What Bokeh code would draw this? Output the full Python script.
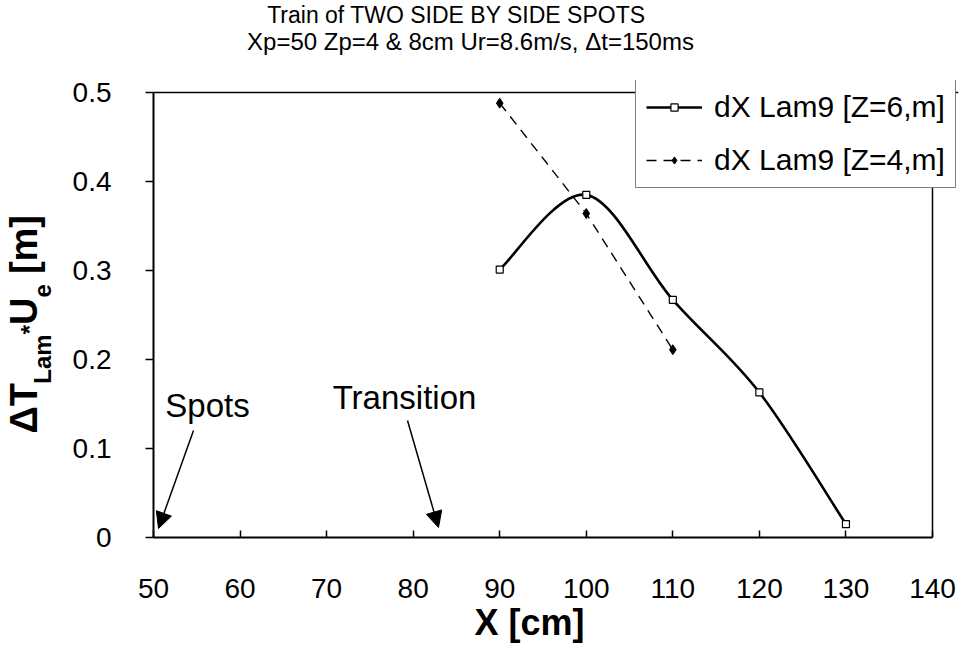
import math
from bokeh.plotting import figure
from bokeh.layouts import row, column
from bokeh.models import (Range1d, FixedTicker, Label, Arrow, NormalHead,
                          Legend, LegendItem, ColumnDataSource, Span, Title)
from bokeh.core.properties import value
from bokeh.embed import file_html
from bokeh.resources import INLINE

# ---------------- data ----------------
x_z6 = [90, 100, 110, 120, 130]
y_z6 = [0.301, 0.385, 0.267, 0.163, 0.015]
x_z4 = [90, 100, 110]
y_z4 = [0.488, 0.364, 0.211]
name_z6 = "dX Lam9 [Z=6,m]"
name_z4 = "dX Lam9 [Z=4,m]"
x_ticks = [50, 60, 70, 80, 90, 100, 110, 120, 130, 140]
y_ticks = [0, 0.1, 0.2, 0.3, 0.4, 0.5]
y_tick_labels = ["0", "0.1", "0.2", "0.3", "0.4", "0.5"]
title_1 = "Train of TWO SIDE BY SIDE SPOTS"
title_2 = "Xp=50 Zp=4 & 8cm Ur=8.6m/s, \u0394t=150ms"
x_label = "X [cm]"
y_label_parts = ["\u0394T", "Lam", "*", "U", "e", "[m]"]
note_spots = "Spots"
note_trans = "Transition"

FONT = "Liberation Sans"
W, H = 962, 653
LW = 60          # width of left strip (y-axis title)
TH = 60          # height of top strip (titles)
MW, MH = W - LW, H - TH
# axis extent in page pixels (50..140, 0..0.5)
FL, FR, FT, FB = 153, 932, 92, 537
XMIN, XMAX, YMIN, YMAX = 50, 140, 0, 0.5
# the plotting frame reaches a little further (legend box sits over it)
FRAME_R, FRAME_T = 958, 80
X_END = XMAX + (FRAME_R - FR) * (XMAX - XMIN) / (FR - FL)
Y_END = YMAX + (FT - FRAME_T) * (YMAX - YMIN) / (FB - FT)


def dx(px):
    return XMIN + (px - FL) / (FR - FL) * (XMAX - XMIN)


def dy(py):
    return YMIN + (FB - py) / (FB - FT) * (YMAX - YMIN)


def blank(w, h, xr, yr):
    f = figure(width=w, height=h, output_backend="svg", toolbar_location=None,
               x_range=Range1d(*xr), y_range=Range1d(*yr),
               x_axis_location=None, y_axis_location=None, min_border=0)
    f.outline_line_color = None
    f.grid.visible = False
    f.background_fill_color = "white"
    f.border_fill_color = "white"
    return f


# ---------------- main plot ----------------
p = figure(width=MW, height=MH, output_backend="svg", toolbar_location=None,
           x_range=Range1d(XMIN, X_END), y_range=Range1d(YMIN, Y_END),
           min_border_left=FL - LW, min_border_right=W - FRAME_R,
           min_border_top=FRAME_T - TH, min_border_bottom=H - FB)
p.background_fill_color = "white"
p.border_fill_color = "white"
p.xgrid.visible = False
p.ygrid.visible = False
p.outline_line_color = None

p.xaxis.ticker = FixedTicker(ticks=x_ticks)
p.yaxis.ticker = FixedTicker(ticks=y_ticks)
p.xaxis.bounds = (XMIN, XMAX)
p.yaxis.bounds = (YMIN, YMAX)
p.yaxis.major_label_overrides = {t: l for t, l in zip(y_ticks, y_tick_labels)}
for ax in (p.xaxis, p.yaxis):
    ax.axis_line_color = "black"
    ax.axis_line_width = 2
    ax.major_tick_line_color = "black"
    ax.major_tick_line_width = 1.5
    ax.minor_tick_line_color = None
    ax.major_label_text_font = FONT
    ax.major_label_text_font_size = "28px"
    ax.major_label_text_color = "black"
p.xaxis.major_tick_in = 7
p.xaxis.major_tick_out = 0
p.yaxis.major_tick_in = 0
p.yaxis.major_tick_out = 8
p.xaxis.major_label_standoff = 41
p.yaxis.major_label_standoff = 34

# x-axis title (placed as a below-title so it can sit left of centre)
p.add_layout(Title(text=x_label, align="left", offset=321,
                   vertical_align="middle", standoff=0,
                   text_font=FONT, text_font_size="36px",
                   text_font_style="bold", text_color="black"), "below")

# top and right border of the chart area
p.add_layout(Span(location=YMAX, dimension="width", line_color="black",
                  line_width=1.5))
p.add_layout(Span(location=XMAX, dimension="height", line_color="black",
                  line_width=1.5))

# Z=6: smoothed solid line (Bezier segments through the data points)
n = len(x_z6)
segs = dict(x0=[], y0=[], x1=[], y1=[], cx0=[], cy0=[], cx1=[], cy1=[])
for i in range(n - 1):
    ip = max(i - 1, 0)
    inx = min(i + 2, n - 1)
    segs["x0"].append(x_z6[i]); segs["y0"].append(y_z6[i])
    segs["x1"].append(x_z6[i + 1]); segs["y1"].append(y_z6[i + 1])
    segs["cx0"].append(x_z6[i] + (x_z6[i + 1] - x_z6[ip]) / 6)
    segs["cy0"].append(y_z6[i] + (y_z6[i + 1] - y_z6[ip]) / 6)
    segs["cx1"].append(x_z6[i + 1] - (x_z6[inx] - x_z6[i]) / 6)
    segs["cy1"].append(y_z6[i + 1] - (y_z6[inx] - y_z6[i]) / 6)
p.bezier(x0="x0", y0="y0", x1="x1", y1="y1", cx0="cx0", cy0="cy0",
         cx1="cx1", cy1="cy1", source=ColumnDataSource(segs),
         line_color="black", line_width=2.6)
# one-point line: draws nothing in the plot, gives the legend its line
leg_line6 = p.line(x=x_z6[:1], y=y_z6[:1], line_color="black", line_width=2.6)
sq6 = p.scatter(x_z6, y_z6, marker="square", size=7, fill_color="white",
                line_color="black", line_width=1.2)

# Z=4: dashed line with diamonds
ln4 = p.line(x_z4, y_z4, line_color="black", line_width=1.4, line_dash="10 7")
dm4 = p.scatter(x_z4, y_z4, marker="diamond", size=10, fill_color="black",
                line_color="black")

legend = Legend(items=[LegendItem(label=name_z6, renderers=[leg_line6, sq6]),
                       LegendItem(label=name_z4, renderers=[ln4, dm4])],
                location=(635 - FL, FB - 188))
legend.label_text_font = FONT
legend.label_text_font_size = "30px"
legend.label_text_color = "black"
legend.glyph_width = 56
legend.glyph_height = 18
legend.label_height = 35
legend.spacing = 18
legend.padding = 10
legend.margin = 0
legend.label_standoff = 12
legend.border_line_color = "black"
legend.border_line_width = 1.5
legend.background_fill_color = "white"
legend.background_fill_alpha = 1
p.add_layout(legend, "center")

# notes with arrows
for txt, cx, cy in ((note_spots, 207, 405), (note_trans, 404, 397)):
    p.add_layout(Label(x=dx(cx), y=dy(cy), text=txt, text_font=FONT,
                       text_font_size="33px", text_align="center",
                       text_baseline="middle", text_color="black"))
for (sx, sy, ex, ey) in ((193, 430, 158, 528), (407, 420, 438, 527)):
    p.add_layout(Arrow(x_start=dx(sx), y_start=dy(sy), x_end=dx(ex), y_end=dy(ey),
                       line_color="black", line_width=1.5,
                       end=NormalHead(size=16, fill_color="black",
                                      line_color="black")))

# ---------------- top strip: two title lines ----------------
t = blank(W, TH, (0, W), (TH, 0))
t.text(x=[456], y=[14], text=[title_1], text_font=value(FONT),
       text_font_size=value("23px"), text_align="center",
       text_baseline="middle", text_color="black")
t.text(x=[470], y=[41], text=[title_2], text_font=value(FONT),
       text_font_size=value("24px"), text_align="center",
       text_baseline="middle", text_color="black")

# ---------------- left strip: rotated y-axis title ----------------
# its frame is aligned with the main frame (page y FRAME_T..FB)
lft = blank(LW, MH, (0, LW), (FB, FRAME_T))
# size, baseline x (px), estimated advance (px factor), gap before (px)
styles = [(38, 37, 1.31, 0), (24, 50, 2.06, 0), (24, 37, 0.39, 0),
          (38, 37, 0.72, 0), (24, 50, 0.56, 0), (38, 37, 1.555, 10)]
pos = 433
for txt, (fs, bx, wf, gap) in zip(y_label_parts, styles):
    pos -= gap
    lft.text(x=[bx - 0.3465 * fs], y=[pos], text=[txt], angle=math.pi / 2,
             text_font=value(FONT), text_font_size=value(f"{fs}px"),
             text_font_style="bold", text_align="left",
             text_baseline="middle", text_color="black")
    pos -= fs * wf

layout = column(t, row(lft, p))
open("out.html", "w").write(file_html(layout, INLINE))
